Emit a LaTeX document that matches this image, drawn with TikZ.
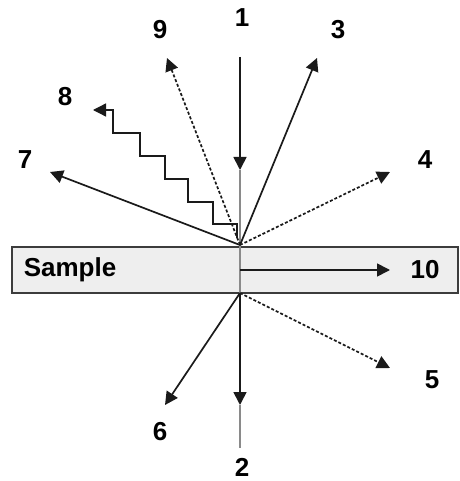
\documentclass[tikz,border=0pt]{standalone}
\usepackage{fontspec}
\setmainfont{Liberation Sans}
\usepackage{xcolor}
\usepackage{tikz}
\usetikzlibrary{arrows.meta}
\definecolor{sampleFill}{HTML}{EEEEEE}
\definecolor{rayGray}{HTML}{8A8A8A}
\definecolor{darkLine}{HTML}{1A1A1A}

\begin{document}
\begin{tikzpicture}[x=1pt,y=-1pt,
  ray/.style={darkLine,line width=1.7pt,-{Triangle[length=13pt,width=13pt]}},
  dashedRay/.style={ray,dash pattern=on 3pt off 2pt},
  grayRay/.style={draw=darkLine!80,line width=0.7pt,double=rayGray,double distance=1.2pt},
  lbl/.style={font=\fontsize{26}{30}\selectfont\bfseries,inner sep=0pt}]
\useasboundingbox (0,0) rectangle (459,481);
\draw[darkLine!85,line width=1.3pt,fill=sampleFill] (12,247) rectangle (458,293);
\node[lbl] (sample) at (70,270) {Sample};
\coordinate (top) at (240,245);
\coordinate (bot) at (240,293);
\coordinate (in1) at (240,57);
\coordinate (mid1) at (240,170);
\coordinate (mid2) at (240,405);
\coordinate (out2) at (240,448);
\coordinate (end3) at (317,58);
\coordinate (end4) at (390,172);
\coordinate (end9) at (167,58);
\coordinate (end7) at (50,172);
\coordinate (start8) at (237,238);
\coordinate (end8) at (93,110);
\coordinate (start10) at (240,270);
\coordinate (end10) at (390,270);
\coordinate (end5) at (390,368);
\coordinate (end6) at (165,405);
\node[lbl] (n1) at (242,18) {1};
\node[lbl] (n2) at (242,467) {2};
\node[lbl] (n3) at (338,30) {3};
\node[lbl] (n4) at (425,160) {4};
\node[lbl] (n5) at (432,380) {5};
\node[lbl] (n6) at (160,432) {6};
\node[lbl] (n7) at (25,160) {7};
\node[lbl] (n8) at (65,97) {8};
\node[lbl] (n9) at (160,30) {9};
\node[lbl] (n10) at (425,270) {10};
\draw[ray] (in1) -- (mid1);
\draw[grayRay] (mid1) -- (top);
\draw[grayRay] (top) -- (bot);
\draw[ray] (bot) -- (mid2);
\draw[grayRay] (mid2) -- (out2);
\draw[ray] (top) -- (end3);
\draw[dashedRay] (top) -- (end4);
\draw[dashedRay] (top) -- (end9);
\draw[ray] (top) -- (end7);
\draw[ray,line width=1.3pt] (start8) -- (237,224) -- (213,224) -- (213,202) -- (188,202) -- (188,179)
  -- (165,179) -- (165,156) -- (140,156) -- (140,133) -- (113,133) -- (113,110) -- (end8);
\draw[ray] (start10) -- (end10);
\draw[dashedRay] (bot) -- (end5);
\draw[ray] (bot) -- (end6);
\end{tikzpicture}
\end{document}
